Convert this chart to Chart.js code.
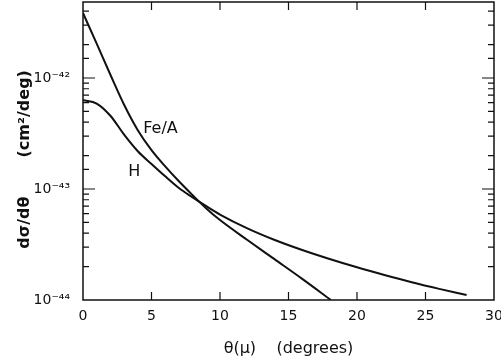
<!DOCTYPE html>
<html lang="en">
<head>
<meta charset="UTF-8">
<title>dσ/dθ vs θ(μ)</title>
<script src="https://cdn.jsdelivr.net/npm/chart.js"></script>
<style>
  body { margin: 0; background: #fff; }
  #wrap { width: 501px; height: 364px; }
</style>
</head>
<body>
<div id="wrap"><canvas id="grafico"></canvas></div>
<script>
// values (angle in degrees, cross section in cm^2/deg)
const feAngle = [0, 1, 2, 3, 4, 5, 6, 7, 8, 9, 10, 12, 14, 16, 18.1];
const feValue = [3.85e-42, 2.04e-42, 1.07e-42, 5.75e-43, 3.39e-43, 2.24e-43, 1.6e-43, 1.175e-43, 8.81e-44, 6.68e-44, 5.25e-44, 3.47e-44, 2.32e-44, 1.55e-44, 1.0e-44];

const hAngle = [0, 1, 2, 3, 4, 5, 6, 7, 8, 9, 10, 12, 14, 16, 18, 20, 22, 24, 26, 28];
const hValue = [6.31e-43, 5.89e-43, 4.57e-43, 3.09e-43, 2.19e-43, 1.68e-43, 1.3e-43, 1.02e-43, 8.41e-44, 7.0e-44, 5.89e-44, 4.42e-44, 3.47e-44, 2.82e-44, 2.34e-44, 1.97e-44, 1.68e-44, 1.445e-44, 1.26e-44, 1.11e-44];

const curveLabels = ['Fe/A', 'H'];
const xTicks = [0, 5, 10, 15, 20, 25, 30];

const sup = { '-': '⁻', '0': '⁰', '1': '¹', '2': '²', '3': '³', '4': '⁴', '5': '⁵', '6': '⁶', '7': '⁷', '8': '⁸', '9': '⁹' };

function isDecade(v) {
  const l = Math.log10(v);
  return Math.abs(l - Math.round(l)) < 1e-6;
}

function toPoints(xs, ys) {
  return xs.map((x, i) => ({ x: x, y: ys[i] }));
}

// frame, inward tick marks and curve labels
const marcos = {
  id: 'marcos',
  afterDatasetsDraw(chart) {
    const ctx = chart.ctx;
    const a = chart.chartArea;
    const xs = chart.scales.x;
    const ys = chart.scales.y;
    ctx.save();
    ctx.strokeStyle = '#111';
    ctx.lineWidth = 1.5;
    ctx.strokeRect(a.left, a.top, a.right - a.left, a.bottom - a.top);
    ctx.lineWidth = 1.2;
    ctx.beginPath();
    xTicks.forEach(v => {
      if (v === xs.min || v === xs.max) return;
      const px = xs.getPixelForValue(v);
      ctx.moveTo(px, a.bottom); ctx.lineTo(px, a.bottom - 8);
      ctx.moveTo(px, a.top); ctx.lineTo(px, a.top + 8);
    });
    ys.ticks.forEach(t => {
      if (t.value <= ys.min || t.value >= ys.max) return;
      const py = ys.getPixelForValue(t.value);
      const len = isDecade(t.value) ? 12 : 6;
      ctx.moveTo(a.left, py); ctx.lineTo(a.left + len, py);
      ctx.moveTo(a.right, py); ctx.lineTo(a.right - len, py);
    });
    ctx.stroke();

    ctx.fillStyle = '#111';
    ctx.font = '16px "DejaVu Sans"';
    ctx.textBaseline = 'middle';
    ctx.textAlign = 'left';
    ctx.fillText(curveLabels[0], xs.getPixelForValue(4.4), ys.getPixelForValue(3.5e-43));
    ctx.fillText(curveLabels[1], xs.getPixelForValue(3.3), ys.getPixelForValue(1.42e-43));
    ctx.restore();
  }
};

new Chart(document.getElementById('grafico'), {
  type: 'line',
  data: {
    datasets: [
      { label: curveLabels[0], data: toPoints(feAngle, feValue), borderColor: '#111', borderWidth: 2, pointRadius: 0, cubicInterpolationMode: 'monotone', fill: false },
      { label: curveLabels[1], data: toPoints(hAngle, hValue), borderColor: '#111', borderWidth: 2, pointRadius: 0, cubicInterpolationMode: 'monotone', fill: false }
    ]
  },
  options: {
    responsive: true,
    maintainAspectRatio: false,
    animation: false,
    layout: { padding: { top: 2, right: 7, left: 0, bottom: 0 } },
    plugins: { legend: { display: false }, tooltip: { enabled: false } },
    scales: {
      x: {
        type: 'linear',
        min: 0,
        max: 30,
        afterBuildTicks: s => { s.ticks = xTicks.map(v => ({ value: v })); },
        afterFit: s => { s.height = 64; s.paddingLeft = 0; s.paddingRight = 0; },
        grid: { display: false },
        border: { display: false },
        ticks: { color: '#111', padding: 0, font: { family: 'DejaVu Sans', size: 14 } },
        title: { display: true, text: 'θ(μ)    (degrees)', color: '#111', padding: { top: 4, bottom: 6 }, font: { family: 'DejaVu Sans', size: 16 } }
      },
      y: {
        type: 'logarithmic',
        min: 1e-44,
        max: 4.84e-42,
        afterFit: s => { s.width = 83; s.paddingTop = 0; s.paddingBottom = 0; },
        grid: { display: false },
        border: { display: false },
        ticks: {
          autoSkip: false,
          color: '#111',
          padding: 5,
          font: { family: 'DejaVu Sans', size: 14 },
          callback: v => {
            if (!isDecade(v)) return '';
            const e = String(Math.round(Math.log10(v)));
            return '10' + e.split('').map(c => sup[c]).join('');
          }
        },
        title: { display: true, text: 'dσ/dθ       (cm²/deg)   ', color: '#111', padding: { top: 15, bottom: 0 }, font: { family: 'DejaVu Sans', size: 16, weight: 'bold' } }
      }
    }
  },
  plugins: [marcos]
});
</script>
</body>
</html>
